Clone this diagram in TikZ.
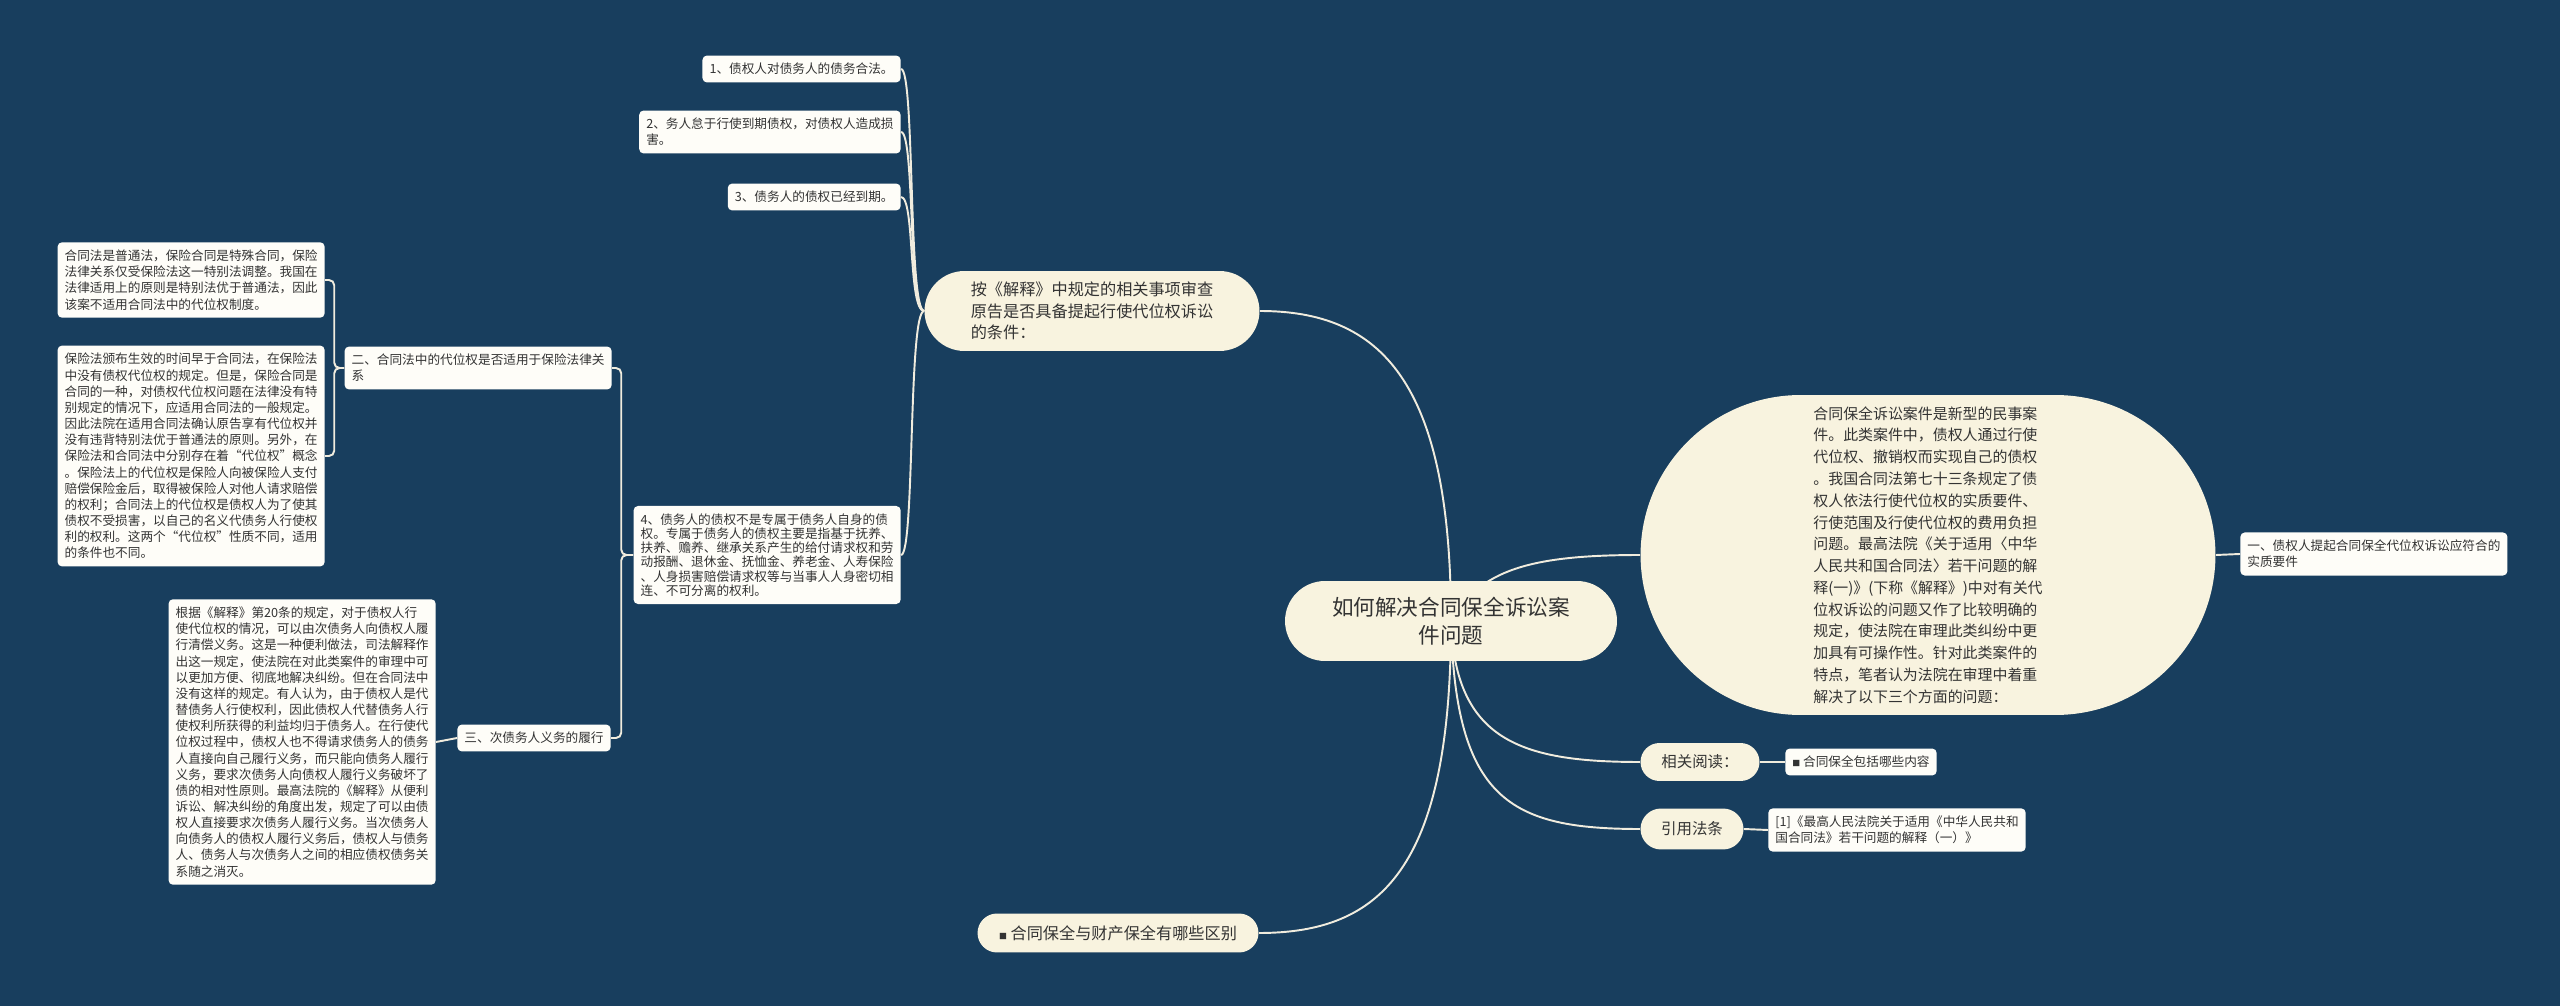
\documentclass[tikz,border=0pt]{standalone}
\usepackage{fontspec}
\setmainfont{Noto Sans CJK SC}
\usepackage{xcolor}
\usepackage{tikz}
\usetikzlibrary{shapes.misc,backgrounds}

\definecolor{bgblue}{RGB}{24,62,94}
\definecolor{cream}{RGB}{248,243,223}
\definecolor{paper}{RGB}{254,253,248}
\definecolor{ink}{RGB}{51,51,51}
\definecolor{linkc}{RGB}{240,236,222}
\newcommand{\sqmark}{{\fontsize{4.5}{4.5}\selectfont ■}\ }

\begin{document}
\begin{tikzpicture}[x=0.02cm, y=-0.02cm,
            pill/.style={rounded rectangle, fill=cream, text=ink, inner sep=0pt},
            box/.style={rectangle, rounded corners=2.5pt, fill=paper, text=ink, align=left, inner xsep=4pt, inner ysep=4.3pt, font=\fontsize{7.2}{9.2}\selectfont},
            link/.style={draw=linkc, line width=1.1pt}]
            \useasboundingbox (0,0) rectangle (2560,1006);
            \begin{pgfonlayer}{background}
            \fill [bgblue] (0,0) rectangle (2560,1006);
            \end{pgfonlayer}

            % centre and main branches
            \node (main) at (1451,621) [pill, minimum width=6.64cm, minimum height=1.6cm, align=center, font=\fontsize{12.3}{15.9}\selectfont] {如何解决合同保全诉讼案\\件问题};
            \node (q) at (1092,311) [pill, minimum width=6.7cm, minimum height=1.6cm, align=left, font=\fontsize{9.2}{12.2}\selectfont] {按《解释》中规定的相关事项审查\\原告是否具备提起行使代位权诉讼\\的条件：};
            \node (ell) at (1928,555) [pill, minimum width=11.5cm, minimum height=6.4cm, align=left, font=\fontsize{8.5}{12.4}\selectfont] {合同保全诉讼案件是新型的民事案\\件。此类案件中，债权人通过行使\\代位权、撤销权而实现自己的债权\\。我国合同法第七十三条规定了债\\权人依法行使代位权的实质要件、\\行使范围及行使代位权的费用负担\\问题。最高法院《关于适用〈中华\\人民共和国合同法〉若干问题的解\\释(一)》(下称《解释》)中对有关代\\位权诉讼的问题又作了比较明确的\\规定，使法院在审理此类纠纷中更\\加具有可操作性。针对此类案件的\\特点，笔者认为法院在审理中着重\\解决了以下三个方面的问题：};
            \node (rel) at (1700,762) [pill, minimum width=2.38cm, minimum height=0.76cm, font=\fontsize{8.8}{11}\selectfont] {相关阅读：};
            \node (cite) at (1692,829) [pill, minimum width=2.06cm, minimum height=0.82cm, font=\fontsize{8.8}{11}\selectfont] {引用法条};
            \node (diff) at (1118,933) [pill, minimum width=5.62cm, minimum height=0.78cm, font=\fontsize{9.2}{11}\selectfont] {\sqmark 合同保全与财产保全有哪些区别};

            % right side leaves
            \node (yi) at (2240,554) [box, anchor=west] {一、债权人提起合同保全代位权诉讼应符合的\\实质要件};
            \node (relc) at (1785,762) [box, anchor=west] {\sqmark 合同保全包括哪些内容};
            \node (citec) at (1768,830) [box, anchor=west] {[1]《最高人民法院关于适用《中华人民共和\\国合同法》若干问题的解释（一）》};

            % left side leaves
            \node (n1) at (901,69) [box, anchor=east] {1、债权人对债务人的债务合法。};
            \node (n2) at (901,132) [box, anchor=east] {2、务人怠于行使到期债权，对债权人造成损\\害。};
            \node (n3) at (901,197) [box, anchor=east] {3、债务人的债权已经到期。};
            \node (n4) at (901,555) [box, anchor=east, font=\fontsize{7.2}{8.1}\selectfont] {4、债务人的债权不是专属于债务人自身的债\\权。专属于债务人的债权主要是指基于抚养、\\扶养、赡养、继承关系产生的给付请求权和劳\\动报酬、退休金、抚恤金、养老金、人寿保险\\、人身损害赔偿请求权等与当事人人身密切相\\连、不可分离的权利。};
            \node (er) at (612,368) [box, anchor=east] {二、合同法中的代位权是否适用于保险法律关\\系};
            \node (a) at (325,280) [box, anchor=east] {合同法是普通法，保险合同是特殊合同，保险\\法律关系仅受保险法这一特别法调整。我国在\\法律适用上的原则是特别法优于普通法，因此\\该案不适用合同法中的代位权制度。};
            \node (b) at (325,456) [box, anchor=east] {保险法颁布生效的时间早于合同法，在保险法\\中没有债权代位权的规定。但是，保险合同是\\合同的一种，对债权代位权问题在法律没有特\\别规定的情况下，应适用合同法的一般规定。\\因此法院在适用合同法确认原告享有代位权并\\没有违背特别法优于普通法的原则。另外，在\\保险法和合同法中分别存在着“代位权”概念\\。保险法上的代位权是保险人向被保险人支付\\赔偿保险金后，取得被保险人对他人请求赔偿\\的权利；合同法上的代位权是债权人为了使其\\债权不受损害，以自己的名义代债务人行使权\\利的权利。这两个“代位权”性质不同，适用\\的条件也不同。};
            \node (san) at (611,738) [box, anchor=east] {三、次债务人义务的履行};
            \node (c) at (436,742) [box, anchor=east] {根据《解释》第20条的规定，对于债权人行\\使代位权的情况，可以由次债务人向债权人履\\行清偿义务。这是一种便利做法，司法解释作\\出这一规定，使法院在对此类案件的审理中可\\以更加方便、彻底地解决纠纷。但在合同法中\\没有这样的规定。有人认为，由于债权人是代\\替债务人行使权利，因此债权人代替债务人行\\使权利所获得的利益均归于债务人。在行使代\\位权过程中，债权人也不得请求债务人的债务\\人直接向自己履行义务，而只能向债务人履行\\义务，要求次债务人向债权人履行义务破坏了\\债的相对性原则。最高法院的《解释》从便利\\诉讼、解决纠纷的角度出发，规定了可以由债\\权人直接要求次债务人履行义务。当次债务人\\向债务人的债权人履行义务后，债权人与债务\\人、债务人与次债务人之间的相应债权债务关\\系随之消灭。};

            \begin{pgfonlayer}{background}
            \draw [link] (main.center) .. controls (1451,380) and (1380,311) .. (q.east);
            \draw [link] (main.center) .. controls (1480,570) and (1530,555) .. (ell.west);
            \draw [link] (main.center) .. controls (1455,740) and (1520,762) .. (rel.west);
            \draw [link] (main.center) .. controls (1455,800) and (1510,829) .. (cite.west);
            \draw [link] (main.center) .. controls (1451,870) and (1380,933) .. (diff.east);
            \draw [link] (ell.east) -- (yi.west);
            \draw [link] (rel.east) -- (relc.west);
            \draw [link] (cite.east) -- (citec.west);
            \draw [link] (q.west) .. controls (908,311) and (915,69) .. (n1.east);
            \draw [link] (q.west) .. controls (908,311) and (915,132) .. (n2.east);
            \draw [link] (q.west) .. controls (908,311) and (915,197) .. (n3.east);
            \draw [link] (q.west) .. controls (908,311) and (915,555) .. (n4.east);
            \draw [link, rounded corners=3pt] (n4.west) -- ++(-12,0) |- (er.east);
            \draw [link, rounded corners=3pt] (n4.west) -- ++(-12,0) |- (san.east);
            \draw [link, rounded corners=3pt] (er.west) -- ++(-10,0) |- (a.east);
            \draw [link, rounded corners=3pt] (er.west) -- ++(-10,0) |- (b.east);
            \draw [link] (san.west) -- (c.east);
            \end{pgfonlayer}
        \end{tikzpicture}
\end{document}
